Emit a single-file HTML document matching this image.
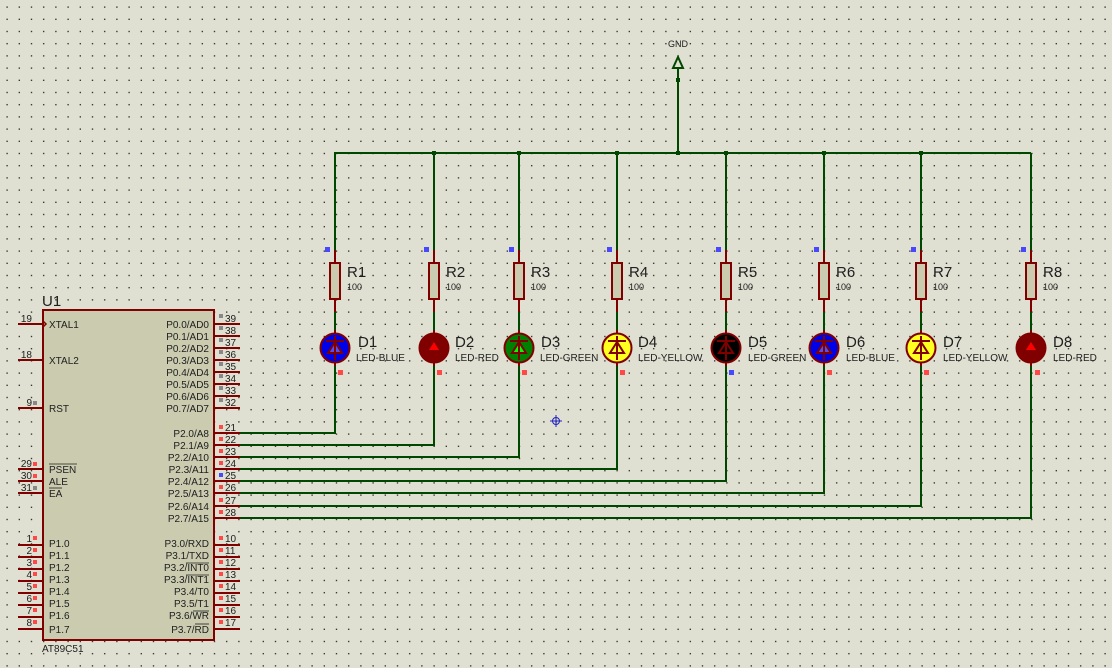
<!DOCTYPE html>
<html><head><meta charset="utf-8"><style>
html,body{margin:0;padding:0;}
body{width:1112px;height:668px;overflow:hidden;background:#dfdfd2;}
svg{display:block;}
text{font-family:"Liberation Sans",sans-serif;fill:#202020;}
</style></head><body>
<svg width="1112" height="668" viewBox="0 0 1112 668" xmlns="http://www.w3.org/2000/svg">
<defs>
<pattern id="g" width="12.2" height="12.2" patternUnits="userSpaceOnUse" x="0.5" y="0.5">
<rect x="6" y="6" width="1.2" height="1.2" fill="#000"/>
</pattern>
</defs>
<rect width="1112" height="668" fill="#dfdfd2"/>
<rect width="1112" height="668" fill="url(#g)"/>

<!-- GND -->
<text x="678" y="47" font-size="9" text-anchor="middle">GND</text>
<polygon points="678,57 673,68 683,68" fill="none" stroke="#004800" stroke-width="2"/>
<line x1="678" y1="68" x2="678" y2="153" stroke="#004800" stroke-width="2"/>
<rect x="676" y="78" width="4" height="4" fill="#004800"/>
<line x1="334" y1="153" x2="1031" y2="153" stroke="#004800" stroke-width="2"/>
<g fill="#004800">
<rect x="432" y="151" width="4" height="4"/><rect x="517" y="151" width="4" height="4"/>
<rect x="615" y="151" width="4" height="4"/><rect x="676" y="151" width="4" height="4"/>
<rect x="724" y="151" width="4" height="4"/><rect x="822" y="151" width="4" height="4"/>
<rect x="919" y="151" width="4" height="4"/>
</g>

<g stroke="#004800" stroke-width="2" fill="none">
<polyline points="335,153 335,250"/><polyline points="335,312 335,332"/><polyline points="335,364 335,433 240,433"/>
<polyline points="434,153 434,250"/><polyline points="434,312 434,332"/><polyline points="434,364 434,445 240,445"/>
<polyline points="519,153 519,250"/><polyline points="519,312 519,332"/><polyline points="519,364 519,457 240,457"/>
<polyline points="617,153 617,250"/><polyline points="617,312 617,332"/><polyline points="617,364 617,469 240,469"/>
<polyline points="726,153 726,250"/><polyline points="726,312 726,332"/><polyline points="726,364 726,481 240,481"/>
<polyline points="824,153 824,250"/><polyline points="824,312 824,332"/><polyline points="824,364 824,493 240,493"/>
<polyline points="921,153 921,250"/><polyline points="921,312 921,332"/><polyline points="921,364 921,506 240,506"/>
<polyline points="1031,153 1031,250"/><polyline points="1031,312 1031,332"/><polyline points="1031,364 1031,518 240,518"/>
</g>

<g stroke="#800000" stroke-width="2">
<line x1="335" y1="250" x2="335" y2="312"/><line x1="434" y1="250" x2="434" y2="312"/>
<line x1="519" y1="250" x2="519" y2="312"/><line x1="617" y1="250" x2="617" y2="312"/>
<line x1="726" y1="250" x2="726" y2="312"/><line x1="824" y1="250" x2="824" y2="312"/>
<line x1="921" y1="250" x2="921" y2="312"/><line x1="1031" y1="250" x2="1031" y2="312"/>
</g>
<g fill="#cbcbb0" stroke="#800000" stroke-width="2">
<rect x="330" y="263" width="10" height="36"/><rect x="429" y="263" width="10" height="36"/>
<rect x="514" y="263" width="10" height="36"/><rect x="612" y="263" width="10" height="36"/>
<rect x="721" y="263" width="10" height="36"/><rect x="819" y="263" width="10" height="36"/>
<rect x="916" y="263" width="10" height="36"/><rect x="1026" y="263" width="10" height="36"/>
</g>
<g font-size="15">
<text x="347" y="277">R1</text><text x="446" y="277">R2</text><text x="531" y="277">R3</text><text x="629" y="277">R4</text>
<text x="738" y="277">R5</text><text x="836" y="277">R6</text><text x="933" y="277">R7</text><text x="1043" y="277">R8</text>
</g>
<g font-size="9">
<text x="347" y="290">100</text><text x="446" y="290">100</text><text x="531" y="290">100</text><text x="629" y="290">100</text>
<text x="738" y="290">100</text><text x="836" y="290">100</text><text x="933" y="290">100</text><text x="1043" y="290">100</text>
</g>
<g fill="#4848ff">
<rect x="325" y="247" width="5" height="5"/><rect x="424" y="247" width="5" height="5"/>
<rect x="509" y="247" width="5" height="5"/><rect x="607" y="247" width="5" height="5"/>
<rect x="716" y="247" width="5" height="5"/><rect x="814" y="247" width="5" height="5"/>
<rect x="911" y="247" width="5" height="5"/><rect x="1021" y="247" width="5" height="5"/>
<rect x="729" y="370" width="5" height="5"/>
</g>
<g fill="#ff4848">
<rect x="338" y="370" width="5" height="5"/><rect x="437" y="370" width="5" height="5"/>
<rect x="522" y="370" width="5" height="5"/><rect x="620" y="370" width="5" height="5"/>
<rect x="827" y="370" width="5" height="5"/><rect x="924" y="370" width="5" height="5"/>
<rect x="1035" y="370" width="5" height="5"/>
</g>

<g stroke="#800000" stroke-width="2">
<line x1="335" y1="330" x2="335" y2="366"/><line x1="434" y1="330" x2="434" y2="366"/>
<line x1="519" y1="330" x2="519" y2="366"/><line x1="617" y1="330" x2="617" y2="366"/>
<line x1="726" y1="330" x2="726" y2="366"/><line x1="824" y1="330" x2="824" y2="366"/>
<line x1="921" y1="330" x2="921" y2="366"/><line x1="1031" y1="330" x2="1031" y2="366"/>
</g>
<g stroke="#800000" stroke-width="2">
<circle cx="335" cy="348" r="14.5" fill="#0000e8"/>
<circle cx="434" cy="348" r="14.5" fill="#800000"/>
<circle cx="519" cy="348" r="14.5" fill="#008000"/>
<circle cx="617" cy="348" r="14.5" fill="#ffff20"/>
<circle cx="726" cy="348" r="14.5" fill="#000"/>
<circle cx="824" cy="348" r="14.5" fill="#0000e8"/>
<circle cx="921" cy="348" r="14.5" fill="#ffff20"/>
<circle cx="1031" cy="348" r="14.5" fill="#800000"/>
</g>
<g stroke="#800000" stroke-width="2">
<polygon points="335,342 328,353 342,353" fill="#5050ff"/><line x1="326" y1="341" x2="344" y2="341"/><line x1="335" y1="336" x2="335" y2="360"/>
<polygon points="519,342 512,353 526,353" fill="#00ff00"/><line x1="510" y1="341" x2="528" y2="341"/><line x1="519" y1="336" x2="519" y2="360"/>
<polygon points="617,342 610,353 624,353" fill="#ffff20"/><line x1="608" y1="341" x2="626" y2="341"/><line x1="617" y1="336" x2="617" y2="360"/>
<polygon points="726,342 719,353 733,353" fill="#000"/><line x1="717" y1="341" x2="735" y2="341"/><line x1="726" y1="336" x2="726" y2="360"/>
<polygon points="824,342 817,353 831,353" fill="#5050ff"/><line x1="815" y1="341" x2="833" y2="341"/><line x1="824" y1="336" x2="824" y2="360"/>
<polygon points="921,342 914,353 928,353" fill="#ffff20"/><line x1="912" y1="341" x2="930" y2="341"/><line x1="921" y1="336" x2="921" y2="360"/>
</g>
<polygon points="434,342 429,350 439,350" fill="#ff0000"/>
<polygon points="1031,342 1026,350 1036,350" fill="#ff0000"/>
<g font-size="15">
<text x="358" y="347">D1</text><text x="455" y="347">D2</text><text x="541" y="347">D3</text><text x="638" y="347">D4</text>
<text x="748" y="347">D5</text><text x="846" y="347">D6</text><text x="943" y="347">D7</text><text x="1053" y="347">D8</text>
</g>
<g font-size="10">
<text x="356" y="361">LED-BLUE</text><text x="455" y="361">LED-RED</text><text x="540" y="361">LED-GREEN</text><text x="638" y="361">LED-YELLOW</text>
<text x="748" y="361">LED-GREEN</text><text x="846" y="361">LED-BLUE</text><text x="943" y="361">LED-YELLOW</text><text x="1053" y="361">LED-RED</text>
</g>

<g stroke="#2020c0" stroke-width="1" fill="none">
<circle cx="556" cy="421" r="3.5"/><line x1="550" y1="421" x2="562" y2="421"/><line x1="556" y1="415" x2="556" y2="427"/>
</g>

<!-- chip -->
<rect x="43" y="310" width="171" height="330" fill="#cbcbb0" stroke="#800000" stroke-width="2"/>
<text x="42" y="306" font-size="15">U1</text>
<text x="42" y="652" font-size="10">AT89C51</text>
<g stroke="#800000" stroke-width="2">
<line x1="18" y1="324" x2="43" y2="324"/><line x1="18" y1="360" x2="43" y2="360"/><line x1="18" y1="408" x2="43" y2="408"/>
<line x1="18" y1="469" x2="43" y2="469"/><line x1="18" y1="481" x2="43" y2="481"/><line x1="18" y1="493" x2="43" y2="493"/>
<line x1="18" y1="545" x2="43" y2="545"/><line x1="18" y1="557" x2="43" y2="557"/><line x1="18" y1="569" x2="43" y2="569"/><line x1="18" y1="581" x2="43" y2="581"/>
<line x1="18" y1="593" x2="43" y2="593"/><line x1="18" y1="605" x2="43" y2="605"/><line x1="18" y1="617" x2="43" y2="617"/><line x1="18" y1="629" x2="43" y2="629"/>
<line x1="214" y1="324" x2="240" y2="324"/><line x1="214" y1="336" x2="240" y2="336"/><line x1="214" y1="348" x2="240" y2="348"/><line x1="214" y1="360" x2="240" y2="360"/>
<line x1="214" y1="372" x2="240" y2="372"/><line x1="214" y1="384" x2="240" y2="384"/><line x1="214" y1="396" x2="240" y2="396"/><line x1="214" y1="408" x2="240" y2="408"/>
<line x1="214" y1="433" x2="240" y2="433"/><line x1="214" y1="445" x2="240" y2="445"/><line x1="214" y1="457" x2="240" y2="457"/><line x1="214" y1="469" x2="240" y2="469"/>
<line x1="214" y1="481" x2="240" y2="481"/><line x1="214" y1="493" x2="240" y2="493"/><line x1="214" y1="506" x2="240" y2="506"/><line x1="214" y1="518" x2="240" y2="518"/>
<line x1="214" y1="545" x2="240" y2="545"/><line x1="214" y1="557" x2="240" y2="557"/><line x1="214" y1="569" x2="240" y2="569"/><line x1="214" y1="581" x2="240" y2="581"/>
<line x1="214" y1="593" x2="240" y2="593"/><line x1="214" y1="605" x2="240" y2="605"/><line x1="214" y1="617" x2="240" y2="617"/><line x1="214" y1="629" x2="240" y2="629"/>
</g>
<polyline points="43,321 46,324 43,327" fill="none" stroke="#800000" stroke-width="1.5"/>
<g fill="#888">
<rect x="219" y="314" width="4" height="4"/><rect x="219" y="326" width="4" height="4"/><rect x="219" y="338" width="4" height="4"/><rect x="219" y="350" width="4" height="4"/>
<rect x="219" y="362" width="4" height="4"/><rect x="219" y="374" width="4" height="4"/><rect x="219" y="386" width="4" height="4"/><rect x="219" y="398" width="4" height="4"/>
<rect x="33" y="401" width="4" height="4"/><rect x="33" y="486" width="4" height="4"/>
</g>
<g fill="#ff4848">
<rect x="219" y="425" width="4" height="4"/><rect x="219" y="437" width="4" height="4"/><rect x="219" y="449" width="4" height="4"/><rect x="219" y="461" width="4" height="4"/>
<rect x="219" y="485" width="4" height="4"/><rect x="219" y="498" width="4" height="4"/><rect x="219" y="510" width="4" height="4"/>
<rect x="219" y="536" width="4" height="4"/><rect x="219" y="548" width="4" height="4"/><rect x="219" y="560" width="4" height="4"/><rect x="219" y="572" width="4" height="4"/>
<rect x="219" y="584" width="4" height="4"/><rect x="219" y="596" width="4" height="4"/><rect x="219" y="608" width="4" height="4"/><rect x="219" y="620" width="4" height="4"/>
<rect x="33" y="462" width="4" height="4"/><rect x="33" y="474" width="4" height="4"/>
<rect x="33" y="536" width="4" height="4"/><rect x="33" y="548" width="4" height="4"/><rect x="33" y="560" width="4" height="4"/><rect x="33" y="572" width="4" height="4"/>
<rect x="33" y="584" width="4" height="4"/><rect x="33" y="596" width="4" height="4"/><rect x="33" y="608" width="4" height="4"/><rect x="33" y="620" width="4" height="4"/>
</g>
<rect x="219" y="473" width="4" height="4" fill="#4848ff"/>
<g font-size="10">
<text x="225" y="322">39</text><text x="225" y="334">38</text><text x="225" y="346">37</text><text x="225" y="358">36</text>
<text x="225" y="370">35</text><text x="225" y="382">34</text><text x="225" y="394">33</text><text x="225" y="406">32</text>
<text x="225" y="431">21</text><text x="225" y="443">22</text><text x="225" y="455">23</text><text x="225" y="467">24</text>
<text x="225" y="479">25</text><text x="225" y="491">26</text><text x="225" y="504">27</text><text x="225" y="516">28</text>
<text x="225" y="542">10</text><text x="225" y="554">11</text><text x="225" y="566">12</text><text x="225" y="578">13</text>
<text x="225" y="590">14</text><text x="225" y="602">15</text><text x="225" y="614">16</text><text x="225" y="626">17</text>
</g>
<g font-size="10" text-anchor="end">
<text x="32" y="322">19</text><text x="32" y="358">18</text><text x="32" y="406">9</text>
<text x="32" y="467">29</text><text x="32" y="479">30</text><text x="32" y="491">31</text>
<text x="32" y="542">1</text><text x="32" y="554">2</text><text x="32" y="566">3</text><text x="32" y="578">4</text>
<text x="32" y="590">5</text><text x="32" y="602">6</text><text x="32" y="614">7</text><text x="32" y="626">8</text>
</g>
<g font-size="10">
<text x="49" y="328">XTAL1</text><text x="49" y="364">XTAL2</text><text x="49" y="412">RST</text>
<text x="49" y="473">PSEN</text><text x="49" y="485">ALE</text><text x="49" y="497">EA</text>
<text x="49" y="547">P1.0</text><text x="49" y="559">P1.1</text><text x="49" y="571">P1.2</text><text x="49" y="583">P1.3</text>
<text x="49" y="595">P1.4</text><text x="49" y="607">P1.5</text><text x="49" y="619">P1.6</text><text x="49" y="633">P1.7</text>
</g>
<g stroke="#202020" stroke-width="0.8">
<line x1="49" y1="464" x2="77" y2="464"/><line x1="49" y1="488" x2="62" y2="488"/>
<line x1="186" y1="563" x2="209" y2="563"/><line x1="186" y1="575" x2="209" y2="575"/>
<line x1="193" y1="611" x2="209" y2="611"/><line x1="195" y1="624" x2="209" y2="624"/>
</g>
<g font-size="10" text-anchor="end">
<text x="209" y="328">P0.0/AD0</text><text x="209" y="340">P0.1/AD1</text><text x="209" y="352">P0.2/AD2</text><text x="209" y="364">P0.3/AD3</text>
<text x="209" y="376">P0.4/AD4</text><text x="209" y="388">P0.5/AD5</text><text x="209" y="400">P0.6/AD6</text><text x="209" y="412">P0.7/AD7</text>
<text x="209" y="437">P2.0/A8</text><text x="209" y="449">P2.1/A9</text><text x="209" y="461">P2.2/A10</text><text x="209" y="473">P2.3/A11</text>
<text x="209" y="485">P2.4/A12</text><text x="209" y="497">P2.5/A13</text><text x="209" y="510">P2.6/A14</text><text x="209" y="522">P2.7/A15</text>
<text x="209" y="547">P3.0/RXD</text><text x="209" y="559">P3.1/TXD</text><text x="209" y="571">P3.2/INT0</text><text x="209" y="583">P3.3/INT1</text>
<text x="209" y="595">P3.4/T0</text><text x="209" y="607">P3.5/T1</text><text x="209" y="619">P3.6/WR</text><text x="209" y="633">P3.7/RD</text>
</g>
</svg>
</body></html>
